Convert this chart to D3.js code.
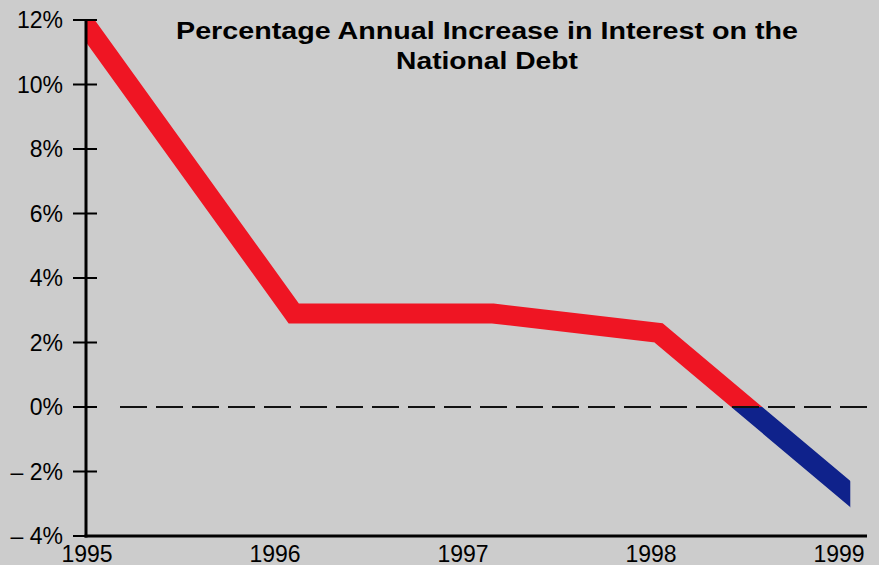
<!DOCTYPE html>
<html>
<head>
<meta charset="utf-8">
<script src="https://cdnjs.cloudflare.com/ajax/libs/d3/7.8.5/d3.min.js"></script>
<style>
   html, body { margin: 0; padding: 0; background: #cccccc; }
   svg { display: block; }
</style>
</head>
<body>
<div class="chart"></div>
<script>
// ======================================
// Data
// ======================================
var years = [1995, 1996.1, 1997.16, 1998.04, 1999.06];
var increase = [11.8, 2.9, 2.9, 2.3, -2.7];

var yTickValues = [12, 10, 8, 6, 4, 2, 0, -2, -4];
var yTickLabels = ['12%', '10%', '8%', '6%', '4%', '2%', '0%', '\u2013 2%', '\u2013 4%'];
var xTickValues = [1995, 1996, 1997, 1998, 1999];
var xTickLabels = ['1995', '1996', '1997', '1998', '1999'];

var titleLines = ['Percentage Annual Increase in Interest on the', 'National Debt'];
var titleWidths = [622, 182];

// ======================================
// Svg dimensions and layout
// ======================================
var chart = {
   width: 879,
   height: 565,
   left: 86,
   right: 867,
   top: 20,
   bottom: 536
};

var svg = d3.select('.chart')
   .append('svg')
   .attr('width', chart.width)
   .attr('height', chart.height)
   ;

svg.append('rect')
   .attr('width', chart.width)
   .attr('height', chart.height)
   .attr('fill', '#cccccc');

// ======================================
// Scales
// ======================================
var x = d3.scaleLinear().domain([1995, 1999]).range([87, 839]);
var y = d3.scaleLinear().domain([-4, 12]).range([chart.bottom, chart.top]);

var points = years.map(function(d, i){ return [d, increase[i]]; });
var xEnd = x(d3.max(years));

// ======================================
// Clip areas: red above zero, blue below
// ======================================
var defs = svg.append('defs');
defs.append('clipPath').attr('id', 'clip-pos')
   .append('rect')
   .attr('x', chart.left)
   .attr('y', chart.top)
   .attr('width', xEnd - chart.left)
   .attr('height', y(0) - chart.top);
defs.append('clipPath').attr('id', 'clip-neg')
   .append('rect')
   .attr('x', chart.left)
   .attr('y', y(0))
   .attr('width', xEnd - chart.left)
   .attr('height', chart.bottom - y(0));

var line = d3.line()
   .x(function(d){ return x(d[0]); })
   .y(function(d){ return y(d[1]); });

[['clip-pos', '#ef1523'], ['clip-neg', '#0f228b']].forEach(function(c){
   svg.append('path')
      .datum(points)
      .attr('clip-path', 'url(#' + c[0] + ')')
      .attr('d', line)
      .attr('fill', 'none')
      .attr('stroke', c[1])
      .attr('stroke-width', 20)
      .attr('stroke-linecap', 'square')
      .attr('stroke-linejoin', 'miter');
});

// ======================================
// Zero line (dashed)
// ======================================
svg.append('line')
   .attr('x1', 120)
   .attr('x2', chart.right)
   .attr('y1', y(0))
   .attr('y2', y(0))
   .attr('stroke', '#111')
   .attr('stroke-width', 2)
   .attr('stroke-dasharray', '27,9');

// ======================================
// Axes
// ======================================
svg.append('line')
   .attr('x1', chart.left).attr('x2', chart.left)
   .attr('y1', chart.top).attr('y2', chart.bottom + 1.5)
   .attr('stroke', '#000').attr('stroke-width', 3);

svg.append('line')
   .attr('x1', chart.left - 1.5).attr('x2', chart.right)
   .attr('y1', chart.bottom).attr('y2', chart.bottom)
   .attr('stroke', '#000').attr('stroke-width', 3);

var yTicks = svg.selectAll('.ytick')
   .data(yTickValues)
   .enter()
   .append('g')
   .attr('class', 'ytick')
   .attr('transform', function(d){ return 'translate(0,' + y(d) + ')'; });

yTicks.append('line')
   .attr('x1', 73).attr('x2', 97)
   .attr('stroke', '#000').attr('stroke-width', 2);

yTicks.append('text')
   .text(function(d, i){ return yTickLabels[i]; })
   .attr('x', 63)
   .attr('y', 8)
   .attr('text-anchor', 'end')
   .attr('font-family', 'Liberation Sans, Arial, sans-serif')
   .attr('font-size', '23px')
   .attr('fill', '#000');

svg.selectAll('.xlabel')
   .data(xTickValues)
   .enter()
   .append('text')
   .attr('class', 'xlabel')
   .text(function(d, i){ return xTickLabels[i]; })
   .attr('x', function(d){ return x(d); })
   .attr('y', 562)
   .attr('text-anchor', 'middle')
   .attr('font-family', 'Liberation Sans, Arial, sans-serif')
   .attr('font-size', '23px')
   .attr('fill', '#000');

// ======================================
// Title: glyphs stretched sideways to the reference width
// ======================================
svg.selectAll('.title')
   .data(titleLines)
   .enter()
   .append('g')
   .attr('class', 'title')
   .attr('transform', function(d, i){ return 'translate(487,' + (39 + i * 30) + ')'; })
   .append('text')
   .text(function(d){ return d; })
   .attr('text-anchor', 'middle')
   .attr('font-family', 'Liberation Sans, Arial, sans-serif')
   .attr('font-weight', 'bold')
   .attr('font-size', '24px')
   .attr('fill', '#000')
   .attr('transform', function(d, i){
      var w = this.getComputedTextLength();
      return 'scale(' + (titleWidths[i] / w) + ',1)';
   });
</script>
</body>
</html>
